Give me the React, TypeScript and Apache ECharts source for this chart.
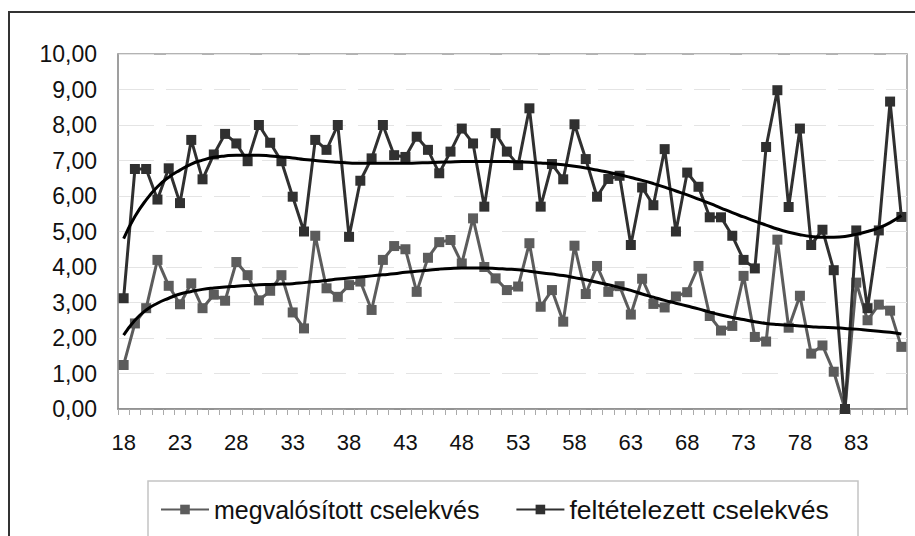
import React, { useEffect, useRef } from "react";
import * as echarts from "echarts";

const ages = [
  "18", "19", "20", "21", "22", "23", "24", "25", "26", "27",
  "28", "29", "30", "31", "32", "33", "34", "35", "36", "37",
  "38", "39", "40", "41", "42", "43", "44", "45", "46", "47",
  "48", "49", "50", "51", "52", "53", "54", "55", "56", "57",
  "58", "59", "60", "61", "62", "63", "64", "65", "66", "67",
  "68", "69", "70", "71", "72", "73", "74", "75", "76", "77",
  "78", "79", "80", "81", "82", "83", "84", "85", "86", "87",
];

const realizedName = "megvalósított cselekvés";
const assumedName = "feltételezett cselekvés";

const realized = [
  1.24, 2.41, 2.84, 4.2, 3.47, 2.95, 3.54, 2.84, 3.22, 3.05,
  4.14, 3.77, 3.06, 3.33, 3.77, 2.72, 2.27, 4.88, 3.4, 3.16,
  3.49, 3.59, 2.79, 4.2, 4.59, 4.5, 3.3, 4.26, 4.7, 4.76,
  4.1, 5.37, 4.0, 3.68, 3.35, 3.45, 4.67, 2.88, 3.35, 2.46,
  4.6, 3.24, 4.03, 3.3, 3.46, 2.66, 3.67, 2.96, 2.86, 3.17,
  3.29, 4.03, 2.62, 2.21, 2.34, 3.75, 2.03, 1.9, 4.77, 2.29,
  3.19, 1.56, 1.79, 1.05, 0, 3.56, 2.5, 2.94, 2.77, 1.75,
];

const assumed = [
  3.12, 6.76, 6.76, 5.9, 6.78, 5.8, 7.58, 6.47, 7.17, 7.75,
  7.48, 6.98, 8.0, 7.5, 6.98, 5.98, 5.0, 7.58, 7.3, 8.0,
  4.85, 6.43, 7.06, 8.0, 7.15, 7.1, 7.67, 7.3, 6.64, 7.25,
  7.9, 7.48, 5.7, 7.77, 7.25, 6.87, 8.47, 5.7, 6.9, 6.47,
  8.02, 7.04, 5.98, 6.48, 6.57, 4.62, 6.24, 5.74, 7.32, 5.0,
  6.66, 6.26, 5.4, 5.4, 4.88, 4.2, 3.96, 7.38, 8.98, 5.69,
  7.9, 4.62, 5.05, 3.91, 0, 5.03, 2.84, 5.03, 8.66, 5.41,
];

const realizedTrend = [
  2.08, 2.5, 2.79, 2.98, 3.12, 3.24, 3.31, 3.37, 3.41, 3.44,
  3.46, 3.48, 3.5, 3.51, 3.52, 3.53, 3.56, 3.59, 3.62, 3.66,
  3.69, 3.72, 3.75, 3.78, 3.81, 3.85, 3.88, 3.91, 3.94, 3.96,
  3.97, 3.97, 3.97, 3.96, 3.94, 3.92, 3.88, 3.84, 3.8, 3.76,
  3.7, 3.64, 3.57, 3.5, 3.42, 3.34, 3.24, 3.15, 3.06, 2.98,
  2.9, 2.82, 2.73, 2.65, 2.58, 2.52, 2.46, 2.41, 2.38, 2.36,
  2.34, 2.32, 2.3, 2.29, 2.27, 2.25, 2.22, 2.19, 2.16, 2.11,
];

const assumedTrend = [
  4.8, 5.42, 5.89, 6.26, 6.53, 6.73, 6.9, 7.01, 7.09, 7.13,
  7.15, 7.15, 7.15, 7.13, 7.1, 7.07, 7.03, 7.0, 6.97, 6.95,
  6.93, 6.92, 6.92, 6.92, 6.92, 6.92, 6.93, 6.94, 6.95, 6.96,
  6.97, 6.97, 6.97, 6.97, 6.97, 6.96, 6.95, 6.93, 6.91, 6.88,
  6.84, 6.79, 6.73, 6.67, 6.6, 6.52, 6.44, 6.35, 6.25, 6.14,
  6.03, 5.91, 5.79, 5.66, 5.53, 5.41, 5.29, 5.18, 5.07, 4.98,
  4.91, 4.86, 4.84, 4.84, 4.86, 4.92, 5.0, 5.1, 5.25, 5.45,
];

const FONT = "Liberation Sans, Arial, sans-serif";

export default function App() {
  const ref = useRef<HTMLDivElement>(null);

  useEffect(() => {
    if (!ref.current) return;
    const chart = echarts.init(ref.current, null, { renderer: "svg" });
    chart.setOption({
      animation: false,
      backgroundColor: "#ffffff",
      textStyle: { fontFamily: FONT },
      grid: {
        left: 118,
        top: 54,
        width: 789,
        height: 355,
        show: true,
        borderColor: "#9a9a9a",
        borderWidth: 1.5,
        backgroundColor: "transparent",
      },
      legend: {
        data: [
          { name: realizedName },
          { name: assumedName, textStyle: { fontSize: 26.5 } },
        ],
        left: 160,
        top: 496,
        padding: 0,
        itemWidth: 48,
        itemHeight: 12,
        itemGap: 36,
        textStyle: { fontSize: 25, color: "#111", fontFamily: FONT },
      },
      xAxis: {
        type: "category",
        data: ages,
        boundaryGap: true,
        axisLine: { show: true, lineStyle: { color: "#888", width: 1.5 } },
        axisTick: { show: true, interval: 0, length: 6, lineStyle: { color: "#aaa" } },
        axisLabel: { interval: 4, fontSize: 22, color: "#111", margin: 22, fontFamily: FONT },
        splitLine: { show: false },
      },
      yAxis: {
        type: "value",
        min: 0,
        max: 10,
        interval: 1,
        axisLine: { show: true, lineStyle: { color: "#999", width: 1.5 } },
        axisTick: { show: false },
        axisLabel: {
          fontSize: 23,
          color: "#111",
          margin: 21,
          fontFamily: FONT,
          formatter: (v: number) => v.toFixed(2).replace(".", ","),
        },
        splitLine: { show: true, lineStyle: { color: "#e4e4e4", width: 1, type: [36, 12] } },
      },
      graphic: [
        {
          type: "line",
          shape: { x1: 8, y1: 12, x2: 915, y2: 12 },
          style: { stroke: "#333", lineWidth: 2 },
          silent: true,
        },
        {
          type: "line",
          shape: { x1: 9, y1: 11, x2: 9, y2: 536 },
          style: { stroke: "#333", lineWidth: 2 },
          silent: true,
        },
        {
          type: "rect",
          shape: { x: 148, y: 481, width: 710, height: 100 },
          style: { fill: "none", stroke: "#c4c4c4", lineWidth: 1.5 },
          silent: true,
        },
      ],
      series: [
        {
          name: realizedName,
          type: "line",
          data: realized,
          symbol: "rect",
          symbolSize: 10,
          showAllSymbol: true,
          itemStyle: { color: "#5c5c5c" },
          lineStyle: { color: "#5c5c5c", width: 3 },
          z: 2,
        },
        {
          name: assumedName,
          type: "line",
          data: assumed,
          symbol: "rect",
          symbolSize: 10,
          showAllSymbol: true,
          itemStyle: { color: "#303030" },
          lineStyle: { color: "#303030", width: 3 },
          z: 3,
        },
        {
          name: "trend1",
          type: "line",
          data: realizedTrend,
          smooth: true,
          showSymbol: false,
          symbol: "none",
          lineStyle: { color: "#000", width: 3 },
          z: 4,
        },
        {
          name: "trend2",
          type: "line",
          data: assumedTrend,
          smooth: true,
          showSymbol: false,
          symbol: "none",
          lineStyle: { color: "#000", width: 3 },
          z: 4,
        },
      ],
    });
    return () => chart.dispose();
  }, []);

  return (
    <div
      ref={ref}
      style={{ position: "fixed", left: 0, top: 0, width: 915, height: 536, background: "#fff" }}
    />
  );
}
